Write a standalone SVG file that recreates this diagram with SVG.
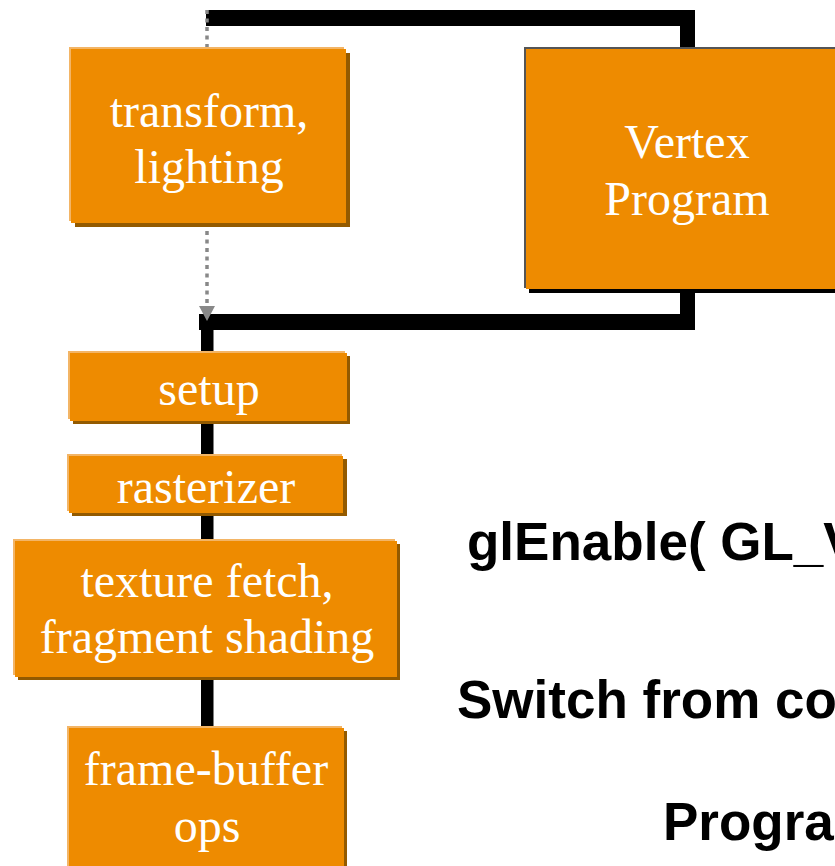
<svg xmlns="http://www.w3.org/2000/svg" width="835" height="866" viewBox="0 0 835 866">
  <defs>
    <style>
      .hi { fill: #F3B566; }
      .sh { fill: #935A00; }
      .box { fill: #EE8B00; }
      .vhi { fill: #555555; }
      .vsh { fill: #000000; }
      .lbl { font-family: "Liberation Serif", "Times New Roman", serif; font-size: 48px; fill: #FFFFFF; text-anchor: middle; }
      .note { font-family: "Liberation Sans", Arial, sans-serif; font-size: 53px; font-weight: bold; fill: #000000; }
      .wire { fill: #000000; }
      .dots { stroke: #888888; stroke-width: 3.5; stroke-dasharray: 4 4.5; fill: none; }
    </style>
  </defs>

  <!-- connectors -->
  <g id="connectors">
    <!-- bypass loop through the vertex program -->
    <rect class="wire" x="206" y="10" width="489" height="16"/>
    <rect class="wire" x="680" y="10" width="15" height="40"/>
    <rect class="wire" x="680" y="288" width="15" height="42"/>
    <rect class="wire" x="199" y="314" width="496" height="16"/>
    <!-- main pipeline spine -->
    <rect class="wire" x="201" y="320" width="12.5" height="410"/>
    <!-- fixed-function path (dotted) -->
    <line class="dots" x1="207" y1="10" x2="207" y2="306"/>
    <polygon points="199,306 215,306 207,321" fill="#888888"/>
  </g>

  <!-- transform, lighting -->
  <g id="transform">
    <rect class="sh" x="75" y="53" width="275" height="174"/>
    <rect class="hi" x="69" y="47" width="275" height="174"/>
    <rect class="box" x="71" y="49" width="275" height="174"/>
    <text class="lbl" x="209" y="127">transform,</text>
    <text class="lbl" x="209" y="183">lighting</text>
  </g>

  <!-- Vertex Program -->
  <g id="vertex-program">
    <rect class="vsh" x="529" y="52" width="330" height="241"/>
    <rect class="vhi" x="524" y="47" width="330" height="241"/>
    <rect class="box" x="526" y="49" width="330" height="240"/>
    <text class="lbl" x="687" y="158">Vertex</text>
    <text class="lbl" x="687" y="215">Program</text>
  </g>

  <!-- setup -->
  <g id="setup">
    <rect class="sh" x="73" y="356" width="277" height="68"/>
    <rect class="hi" x="68" y="351" width="277" height="68"/>
    <rect class="box" x="70" y="353" width="277" height="68"/>
    <text class="lbl" x="209" y="405">setup</text>
  </g>

  <!-- rasterizer -->
  <g id="rasterizer">
    <rect class="sh" x="72" y="459" width="275" height="57"/>
    <rect class="hi" x="67" y="454" width="275" height="57"/>
    <rect class="box" x="69" y="456" width="274" height="57"/>
    <text class="lbl" x="206" y="503">rasterizer</text>
  </g>

  <!-- texture fetch, fragment shading -->
  <g id="fragment">
    <rect class="sh" x="18" y="544" width="382" height="136"/>
    <rect class="hi" x="13" y="539" width="382" height="136"/>
    <rect class="box" x="15" y="541" width="382" height="136"/>
    <text class="lbl" x="207" y="597">texture fetch,</text>
    <text class="lbl" x="207" y="653">fragment shading</text>
  </g>

  <!-- frame-buffer ops -->
  <g id="framebuffer">
    <rect class="sh" x="72" y="731" width="275" height="160"/>
    <rect class="hi" x="67" y="726" width="275" height="160"/>
    <rect class="box" x="69" y="728" width="275" height="160"/>
    <text class="lbl" x="206" y="785">frame-buffer</text>
    <text class="lbl" x="207" y="842">ops</text>
  </g>

  <!-- notes -->
  <g id="notes">
    <text class="note" x="467" y="560">glEnable( GL_V</text>
    <text class="note" x="457" y="718">Switch from co</text>
    <text class="note" x="663" y="840">Progra</text>
  </g>
</svg>
